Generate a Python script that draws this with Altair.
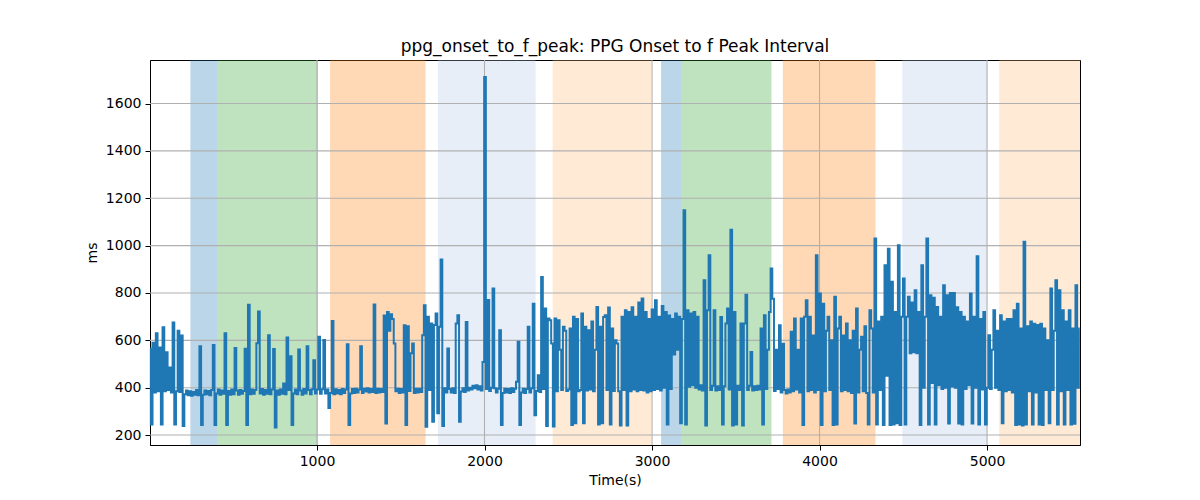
import altair as alt
import pandas as pd

# sampling grid of the signal (seconds)
T0 = 3
STEP = 10

interval_ms = [
    565, 245, 590, 380, 630, 385, 570, 245, 655, 385, 550, 390, 485, 380, 675, 245, 385, 640, 382, 620,
    238, 372, 388, 368, 385, 366, 382, 370, 390, 368, 575, 242, 370, 388, 372, 386, 368, 390, 580, 242,
    376, 392, 370, 388, 374, 630, 242, 386, 370, 392, 372, 568, 388, 370, 390, 374, 386, 565, 242, 750,
    372, 392, 374, 390, 588, 722, 376, 394, 370, 390, 374, 622, 372, 392, 563, 232, 388, 370, 392, 374,
    418, 372, 612, 390, 533, 242, 376, 392, 372, 561, 388, 370, 394, 376, 575, 390, 372, 393, 516, 375,
    392, 615, 374, 393, 601, 376, 392, 314, 378, 682, 372, 393, 376, 390, 372, 395, 378, 392, 584, 242,
    376, 394, 378, 396, 380, 392, 575, 378, 396, 384, 398, 380, 395, 382, 751, 378, 396, 380, 394, 382,
    705, 249, 720, 640, 710, 690, 587, 385, 396, 378, 394, 380, 664, 242, 660, 386, 545, 587, 378, 396,
    380, 396, 382, 622, 748, 235, 700, 390, 671, 256, 665, 713, 292, 657, 941, 238, 398, 380, 566, 394,
    380, 398, 378, 671, 706, 256, 384, 398, 382, 678, 388, 400, 392, 408, 398, 410, 392, 406, 388, 509,
    1712, 395, 770, 386, 400, 819, 398, 380, 396, 643, 242, 378, 396, 380, 395, 378, 398, 382, 396, 425,
    594, 242, 380, 396, 378, 394, 657, 380, 398, 755, 284, 386, 453, 382, 868, 394, 734, 238, 692, 685,
    587, 236, 692, 385, 685, 560, 390, 657, 640, 386, 392, 650, 242, 700, 250, 690, 385, 390, 713, 250,
    657, 388, 643, 392, 680, 385, 560, 741, 245, 657, 250, 699, 706, 390, 739, 245, 650, 386, 600, 587,
    385, 240, 700, 390, 727, 240, 720, 385, 740, 392, 700, 385, 760, 390, 777, 388, 720, 380, 690, 385,
    730, 390, 769, 395, 700, 388, 745, 400, 720, 245, 705, 395, 690, 540, 713, 560, 700, 250, 690, 1149,
    245, 727, 404, 713, 410, 720, 400, 700, 392, 410, 388, 854, 240, 727, 959, 390, 408, 727, 388, 406,
    390, 699, 245, 406, 671, 734, 392, 1067, 240, 720, 245, 408, 390, 671, 240, 671, 793, 390, 408, 551,
    388, 406, 390, 408, 392, 650, 245, 706, 394, 560, 720, 903, 776, 386, 560, 394, 664, 380, 586, 390,
    376, 392, 380, 636, 385, 692, 392, 560, 380, 692, 242, 700, 769, 385, 700, 390, 620, 380, 959, 390,
    798, 242, 755, 385, 640, 700, 390, 600, 242, 784, 245, 650, 700, 385, 620, 390, 671, 385, 600, 378,
    640, 249, 734, 380, 560, 615, 385, 660, 378, 245, 727, 650, 380, 1030, 245, 680, 390, 700, 242, 917,
    450, 987, 242, 847, 245, 720, 250, 1002, 242, 700, 861, 245, 700, 784, 545, 760, 550, 812, 545, 720,
    242, 917, 400, 700, 1030, 245, 790, 420, 780, 245, 741, 410, 700, 395, 833, 400, 790, 249, 800, 405,
    800, 400, 740, 249, 720, 245, 700, 395, 680, 410, 798, 249, 700, 400, 955, 245, 690, 392, 720, 245,
    400, 622, 395, 560, 727, 400, 640, 390, 706, 250, 680, 385, 690, 390, 690, 380, 727, 242, 755, 245,
    650, 240, 1016, 245, 660, 385, 680, 245, 670, 380, 665, 245, 670, 242, 650, 390, 600, 250, 819, 390,
    640, 854, 245, 812, 385, 727, 245, 680, 390, 727, 245, 650, 248, 833, 400, 650,
]

# shaded phases
span_start = [244, 405, 1078, 1722, 2407, 3054, 3173, 3781, 4494, 5073]
span_end = [405, 1006, 1648, 2305, 2994, 3173, 3713, 4334, 5000, 5555]
span_color = ["#1f77b4", "#2ca02c", "#ff7f0e", "#aec7e8", "#ffbb78",
              "#1f77b4", "#2ca02c", "#ff7f0e", "#aec7e8", "#ffbb78"]

x_ticks = [1000, 2000, 3000, 4000, 5000]
y_ticks = [200, 400, 600, 800, 1000, 1200, 1400, 1600]

X_DOMAIN = [3, 5555]
Y_DOMAIN = [158, 1784]

signal = pd.DataFrame({
    "t": [T0 + STEP * i for i in range(len(interval_ms))],
    "ms": interval_ms,
})
spans = pd.DataFrame({"start": span_start, "end": span_end, "color": span_color})

xs = alt.Scale(domain=X_DOMAIN, nice=False, zero=False)
ys = alt.Scale(domain=Y_DOMAIN, nice=False, zero=False)
x_axis = alt.Axis(title="Time(s)", values=x_ticks, format="d", titlePadding=5)
y_axis = alt.Axis(title="ms", values=y_ticks, format="d", titlePadding=6)

shade = alt.Chart(spans).mark_rect(opacity=0.3).encode(
    x=alt.X("start:Q", scale=xs, axis=x_axis),
    x2="end:Q",
    color=alt.Color("color:N", scale=None),
)

xgrid = alt.Chart(pd.DataFrame({"v": x_ticks})).mark_rule(
    color="#b0b0b0", strokeWidth=1.1
).encode(x=alt.X("v:Q", scale=xs, axis=x_axis))

ygrid = alt.Chart(pd.DataFrame({"v": y_ticks})).mark_rule(
    color="#b0b0b0", strokeWidth=1.1
).encode(y=alt.Y("v:Q", scale=ys, axis=y_axis))

line = alt.Chart(signal).mark_line(
    color="#1f77b4", strokeWidth=2, interpolate="step"
).encode(
    x=alt.X("t:Q", scale=xs, axis=x_axis),
    y=alt.Y("ms:Q", scale=ys, axis=y_axis),
)

chart = (
    alt.layer(shade, xgrid, ygrid, line)
    .properties(
        width=930,
        height=385,
        autosize=alt.AutoSizeParams(type="none"),
        padding={"left": 142, "top": 52, "right": 112, "bottom": 47},
        title=alt.TitleParams(
            "ppg_onset_to_f_peak: PPG Onset to f Peak Interval",
            font="DejaVu Sans", fontSize=17, fontWeight="normal",
            color="black", offset=3,
        ),
    )
    .configure_view(stroke="black", strokeWidth=1)
    .configure_axis(
        grid=False,
        domainColor="black",
        tickColor="black",
        tickSize=5,
        labelPadding=4,
        labelFont="DejaVu Sans",
        labelFontSize=14,
        labelColor="black",
        titleFont="DejaVu Sans",
        titleFontSize=14,
        titleFontWeight="normal",
        titleColor="black",
    )
)

chart.save("out.html", embed_options={"renderer": "svg", "actions": False})
